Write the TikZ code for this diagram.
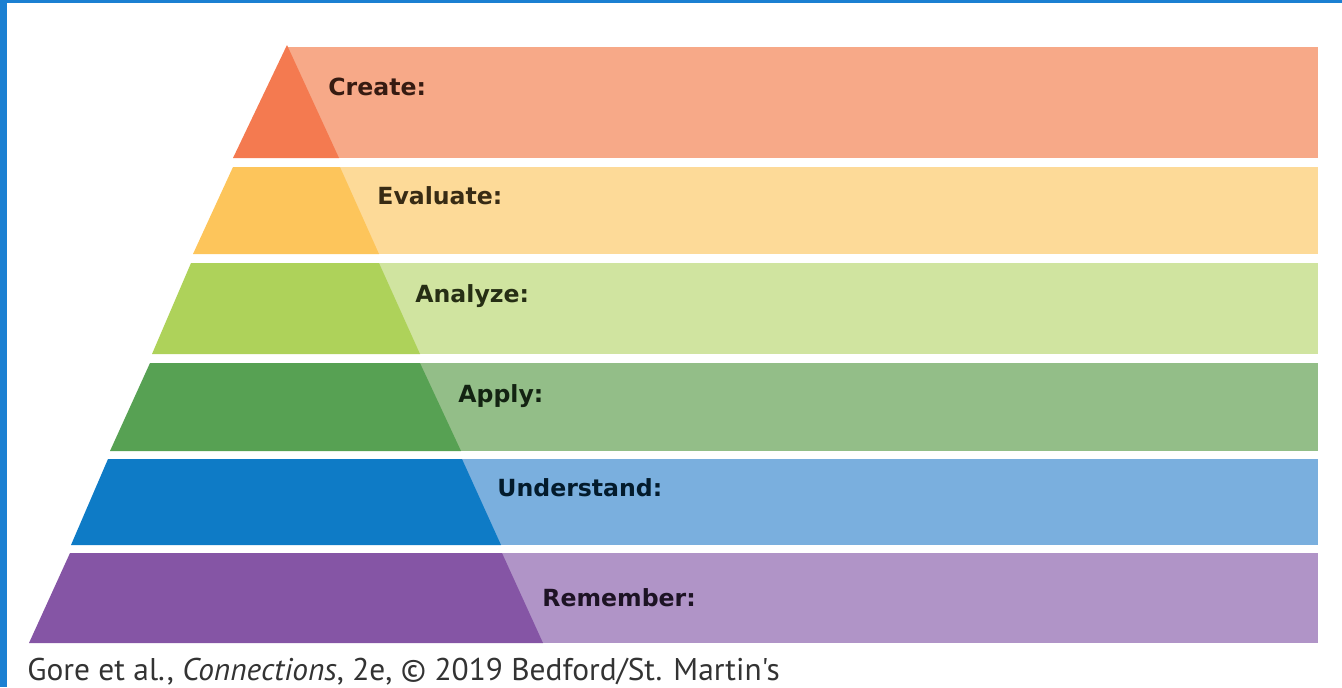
\documentclass[tikz,border=0pt]{standalone}
\usepackage{fontspec}
\setmainfont{DejaVu Sans}
\newfontfamily\creditfont{PT Sans}
\usetikzlibrary{positioning}

\definecolor{frameblue}{HTML}{1B80D2}
\definecolor{createdark}{HTML}{F47A50}
\definecolor{createlight}{HTML}{F7A988}
\definecolor{evaldark}{HTML}{FDC55B}
\definecolor{evallight}{HTML}{FDDA98}
\definecolor{analyzedark}{HTML}{AED25A}
\definecolor{analyzelight}{HTML}{D0E4A0}
\definecolor{applydark}{HTML}{57A153}
\definecolor{applylight}{HTML}{93BE88}
\definecolor{underdark}{HTML}{0E7BC6}
\definecolor{underlight}{HTML}{7AAFDE}
\definecolor{rememberdark}{HTML}{8555A5}
\definecolor{rememberlight}{HTML}{B094C7}

\begin{document}
\begin{tikzpicture}[x=0.5pt,y=-0.5pt,
  level/.style={font=\bfseries\fontsize{11.8}{14}\selectfont,anchor=base west,inner sep=0pt,text=#1!22!black}]
\useasboundingbox (0,0) rectangle (1342,687);
\fill[frameblue] (0,0) rectangle (7,687);
\fill[frameblue] (0,0) rectangle (1342,3);

% create
\fill[createlight] (287,47) rectangle (1318,158);
\fill[createdark] (287,45) -- (339,158) -- (233,158) -- cycle;
\node[level=createdark] (create) at (328,95) {Create:};

% evaluate
\fill[evallight] (340,167) rectangle (1318,254);
\fill[evaldark] (233,167) -- (340,167) -- (379,254) -- (193,254) -- cycle;
\node[level=evaldark] (evaluate) at (377,204) {Evaluate:};

% analyze
\fill[analyzelight] (379,263) rectangle (1318,354);
\fill[analyzedark] (191,263) -- (379,263) -- (420,354) -- (152,354) -- cycle;
\node[level=analyzedark] (analyze) at (415,302) {Analyze:};

% apply
\fill[applylight] (420,363) rectangle (1318,451);
\fill[applydark] (150,363) -- (420,363) -- (461,451) -- (110,451) -- cycle;
\node[level=applydark] (apply) at (458,402) {Apply:};

% understand
\fill[underlight] (462,459) rectangle (1318,545);
\fill[underdark] (108,459) -- (462,459) -- (501,545) -- (71,545) -- cycle;
\node[level=underdark] (understand) at (497,496) {Understand:};

% remember
\fill[rememberlight] (502,553) rectangle (1318,643);
\fill[rememberdark] (70,553) -- (502,553) -- (543,643) -- (29,643) -- cycle;
\node[level=rememberdark] (remember) at (542,606) {Remember:};

\node[anchor=base west,inner sep=0pt,font=\creditfont\fontsize{15.7}{18}\selectfont,text=black!80] (credit) at (27,680)
  {Gore et al., \textit{Connections}, 2e, © 2019 Bedford/St. Martin's};
\end{tikzpicture}
\end{document}
